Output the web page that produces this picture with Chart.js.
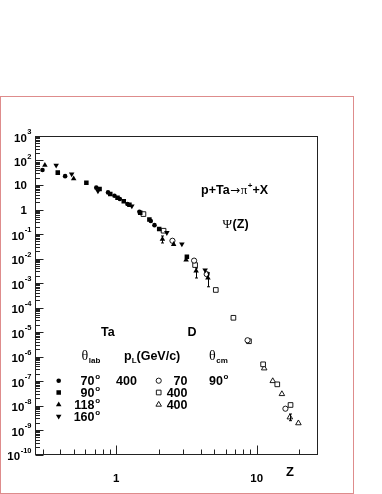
<!DOCTYPE html>
<html>
<head>
<meta charset="utf-8">
<script src="https://cdn.jsdelivr.net/npm/chart.js@4"></script>
<style>
  html, body { margin: 0; padding: 0; background: #fff; }
  canvas { display: block; }
</style>
</head>
<body>
<canvas id="psiChart" width="382" height="494"></canvas>
<script>
// Ta, p = 400 GeV/c, filled markers
var zTa70 = [0.298, 0.432, 0.72, 0.873, 0.97, 1.06, 1.2, 1.46, 1.76, 1.87];
var psiTa70 = [41, 23, 7.8, 5.0, 3.66, 2.7, 1.68, 0.8, 0.34, 0.23];

var zTa90 = [0.383, 0.612, 0.76, 0.906, 1.02, 1.13, 1.24, 1.48, 1.72, 2.02, 3.18];
var psiTa90 = [32, 12.4, 6.9, 4.3, 3.0, 2.16, 1.57, 0.74, 0.39, 0.16, 0.0118];

var zTa118 = [0.31, 0.497, 2.13, 2.56, 3.14, 3.70, 4.49];
var psiTa118 = [65, 18, 0.061, 0.038, 0.0087, 0.0031, 0.0016];
var errTa118 = [null, null, [0.043, 0.083], null, null, [0.0016, 0.0041], [0.0007, 0.0026]];

var zTa160 = [0.373, 0.481, 0.74, 1.29, 2.29, 2.93, 4.29];
var psiTa160 = [63, 28, 5.7, 1.39, 0.113, 0.039, 0.0034];

// D, theta_cm = 90, open markers
var zD70 = [2.51, 3.58, 4.4, 8.6, 16.0];
var psiD70 = [0.053, 0.0082, 0.0023, 4.6e-6, 7.4e-9];

var zD400 = [1.56, 2.17, 3.64, 5.11, 6.82, 8.8, 11.1, 14.0, 17.4];
var psiD400 = [0.65, 0.136, 0.0054, 5.2e-4, 3.8e-5, 4.2e-6, 4.8e-7, 7.3e-8, 1.05e-8];

var zD400b = [11.3, 13.0, 15.1, 17.2, 19.8];
var psiD400b = [3.3e-7, 1e-7, 2.95e-8, 3.3e-9, 1.9e-9];
var errD400b = [null, null, null, [2.4e-9, 4.5e-9], null];

// axis ticks
var yTickExps = [3, 2, 1, 0, -1, -2, -3, -4, -5, -6, -7, -8, -9, -10];
var xTickLabels = [1, 10];

var FONT = '"Liberation Sans", Arial, sans-serif';
var SERIF = '"Liberation Serif", "DejaVu Serif", serif';

function pts(xs, ys) {
    var out = [];
    for (var i = 0; i < xs.length; i++) out.push({ x: xs[i], y: ys[i] });
    return out;
}

function series(label, xs, ys, style, filled, radius, rot, errs) {
    return {
        label: label,
        data: pts(xs, ys),
        errs: errs || null,
        pointStyle: style,
        pointRotation: rot || 0,
        pointRadius: radius,
        pointBackgroundColor: filled ? '#000' : '#fff',
        pointBorderColor: '#000',
        pointBorderWidth: filled ? 0 : 0.9,
        showLine: false
    };
}

// small marker drawer for the legend block
function marker(ctx, style, x, y, r, filled, down) {
    ctx.save();
    ctx.beginPath();
    if (style === 'circle') {
        ctx.arc(x, y, r, 0, Math.PI * 2);
    } else if (style === 'rect') {
        var s = r * Math.SQRT1_2;
        ctx.rect(x - s, y - s, 2 * s, 2 * s);
    } else {
        var d = down ? -1 : 1;
        ctx.moveTo(x, y - d * r);
        ctx.lineTo(x + r * 0.866, y + d * r * 0.5);
        ctx.lineTo(x - r * 0.866, y + d * r * 0.5);
        ctx.closePath();
    }
    if (filled) {
        ctx.fillStyle = '#000';
        ctx.fill();
    } else {
        ctx.fillStyle = '#fff';
        ctx.fill();
        ctx.strokeStyle = '#000';
        ctx.lineWidth = 0.9;
        ctx.stroke();
    }
    ctx.restore();
}

// draws a piece of text and returns where it ends
function txt(ctx, s, x, y, font) {
    ctx.font = font;
    ctx.fillText(s, x, y);
    return x + ctx.measureText(s).width;
}

var framePlugin = {
    id: 'framePlugin',
    afterDatasetsDraw: function (chart) {
        var ctx = chart.ctx;
        var xs = chart.scales.x, ys = chart.scales.y;
        var a = chart.chartArea;

        ctx.save();
        // error bars
        ctx.strokeStyle = '#000';
        ctx.lineWidth = 1;
        chart.data.datasets.forEach(function (ds) {
            if (!ds.errs) return;
            ds.data.forEach(function (p, i) {
                var e = ds.errs[i];
                if (!e) return;
                var px = Math.round(xs.getPixelForValue(p.x)) + 0.5;
                var y1 = ys.getPixelForValue(e[0]), y2 = ys.getPixelForValue(e[1]);
                ctx.beginPath();
                ctx.moveTo(px, y1); ctx.lineTo(px, y2);
                ctx.moveTo(px - 1.5, y1); ctx.lineTo(px + 1.5, y1);
                ctx.moveTo(px - 1.5, y2); ctx.lineTo(px + 1.5, y2);
                ctx.stroke();
            });
        });

        // outer pink frame
        ctx.strokeStyle = 'rgb(222,140,140)';
        ctx.lineWidth = 1;
        ctx.strokeRect(0.5, 96.5, 353, 397);

        // plot box
        ctx.strokeStyle = '#222';
        ctx.strokeRect(Math.round(a.left) - 0.5, Math.round(a.top) + 0.5,
            Math.round(a.right - a.left), Math.round(a.bottom - a.top) - 1);

        // y ticks, inside
        var xl = Math.round(a.left) - 0.5;
        ctx.beginPath();
        for (var n = -10; n <= 3; n++) {
            for (var k = 1; k <= 9; k++) {
                var v = k * Math.pow(10, n);
                if (v > 1000.0001) break;
                var py = Math.round(ys.getPixelForValue(v)) + 0.5;
                ctx.moveTo(xl, py);
                ctx.lineTo(xl + (k === 1 ? 8 : 4.5), py);
            }
        }
        // x ticks, inside
        var yb = Math.round(a.bottom) - 0.5;
        var xt = [0.3, 0.4, 0.5, 0.6, 0.7, 0.8, 0.9, 1, 2, 3, 4, 5, 6, 7, 8, 9, 10, 20];
        xt.forEach(function (v) {
            var px = Math.round(xs.getPixelForValue(v)) + 0.5;
            var major = (v === 1 || v === 10);
            ctx.moveTo(px, yb);
            ctx.lineTo(px, yb - (major ? 9 : 5));
        });
        ctx.stroke();

        // y tick labels
        ctx.fillStyle = '#000';
        ctx.textBaseline = 'alphabetic';
        yTickExps.forEach(function (n) {
            var py = ys.getPixelForValue(Math.pow(10, n));
            if (n === 0 || n === 1) {
                ctx.font = 'bold 11.5px ' + FONT;
                ctx.textAlign = 'right';
                ctx.fillText(n === 0 ? '1' : '10', 27, py + 4);
                return;
            }
            var e = String(n);
            ctx.font = 'bold 7.5px ' + FONT;
            var we = ctx.measureText(e).width;
            ctx.font = 'bold 11.5px ' + FONT;
            var wb = ctx.measureText('10').width;
            var x0 = 31 - we - wb;
            ctx.textAlign = 'left';
            ctx.fillText('10', x0, py + 5.5);
            ctx.font = 'bold 7.5px ' + FONT;
            ctx.fillText(e, x0 + wb + 0.5, py - 2);
        });

        // x tick labels
        ctx.textAlign = 'center';
        ctx.font = 'bold 11.5px ' + FONT;
        xTickLabels.forEach(function (v) {
            ctx.fillText(String(v), xs.getPixelForValue(v), 482);
        });
        ctx.font = 'bold 13px ' + FONT;
        ctx.fillText('Z', 290, 476);

        // annotations
        ctx.textAlign = 'left';
        var B = 'bold 12.5px ' + FONT;
        var S = 'bold 8px ' + FONT;
        var x = txt(ctx, 'p+Ta', 201, 194, B);
        x = txt(ctx, '\u2192', x + 0.5, 193.5, '12px "DejaVu Sans", sans-serif');
        x = txt(ctx, '\u03c0', x + 0.5, 194, '13px ' + SERIF);
        x = txt(ctx, '+', x + 0.5, 188, S);
        txt(ctx, '+X', x, 194, B);

        x = txt(ctx, '\u03a8', 222.5, 227.5, '13px ' + SERIF);
        txt(ctx, '(Z)', x + 0.5, 227.5, B);

        txt(ctx, 'Ta', 101, 335.5, B);
        txt(ctx, 'D', 187.5, 335.5, B);

        x = txt(ctx, '\u03b8', 81.5, 359.5, '14px ' + SERIF);
        txt(ctx, 'lab', x + 0.5, 362.5, S);
        x = txt(ctx, 'p', 124, 359.5, B);
        x = txt(ctx, 'L', x, 362.5, S);
        txt(ctx, '(GeV/c)', x, 359.5, B);
        x = txt(ctx, '\u03b8', 209, 359.5, '14px ' + SERIF);
        txt(ctx, 'cm', x + 0.5, 362.5, S);

        // legend block
        var rows = [380.7, 392.5, 404.6, 416.4];
        var angles = ['70', '90', '118', '160'];
        var shapes = ['circle', 'rect', 'triangle', 'triangle'];
        var radii = [2.3, 3.2, 3.2, 3.2];
        for (var i = 0; i < 4; i++) {
            marker(ctx, shapes[i], 58.7, rows[i], radii[i], true, i === 3);
            ctx.font = B;
            ctx.textAlign = 'right';
            ctx.fillText(angles[i], 94.5, rows[i] + 4.5);
            ctx.textAlign = 'left';
            txt(ctx, 'o', 95.2, rows[i] - 1.5, S);
        }
        txt(ctx, '400', 116, rows[0] + 4.5, B);

        var dLabels = ['70', '400', '400'];
        var dShapes = ['circle', 'rect', 'triangle'];
        var dRadii = [2.6, 3.3, 3.2];
        for (var j = 0; j < 3; j++) {
            marker(ctx, dShapes[j], 158.7, rows[j], dRadii[j], false, false);
            ctx.font = B;
            ctx.textAlign = 'right';
            ctx.fillText(dLabels[j], 187.5, rows[j] + 4.5);
        }
        ctx.textAlign = 'left';
        x = txt(ctx, '90', 209, rows[0] + 4.5, B);
        txt(ctx, 'o', x + 0.5, rows[0] - 1.5, S);

        ctx.restore();
    }
};

var ctx = document.getElementById('psiChart').getContext('2d');
var psiChart = new Chart(ctx, {
    type: 'scatter',
    data: {
        datasets: [
            series('Ta 70', zTa70, psiTa70, 'circle', true, 2.3),
            series('Ta 90', zTa90, psiTa90, 'rect', true, 3.2),
            series('Ta 118', zTa118, psiTa118, 'triangle', true, 3.2, 0, errTa118),
            series('Ta 160', zTa160, psiTa160, 'triangle', true, 3.2, 180),
            series('D 70', zD70, psiD70, 'circle', false, 2.6),
            series('D 400', zD400, psiD400, 'rect', false, 3.3),
            series('D 400 b', zD400b, psiD400b, 'triangle', false, 3.2, 0, errD400b)
        ]
    },
    options: {
        responsive: false,
        animation: false,
        events: [],
        layout: { padding: { left: 36, right: 64, top: 136, bottom: 39.5 } },
        plugins: { legend: { display: false }, tooltip: { enabled: false } },
        scales: {
            x: { type: 'logarithmic', min: 0.268, max: 27.3, display: false },
            y: { type: 'logarithmic', min: 1e-10, max: 1e3, display: false }
        }
    },
    plugins: [framePlugin]
});
</script>
</body>
</html>
